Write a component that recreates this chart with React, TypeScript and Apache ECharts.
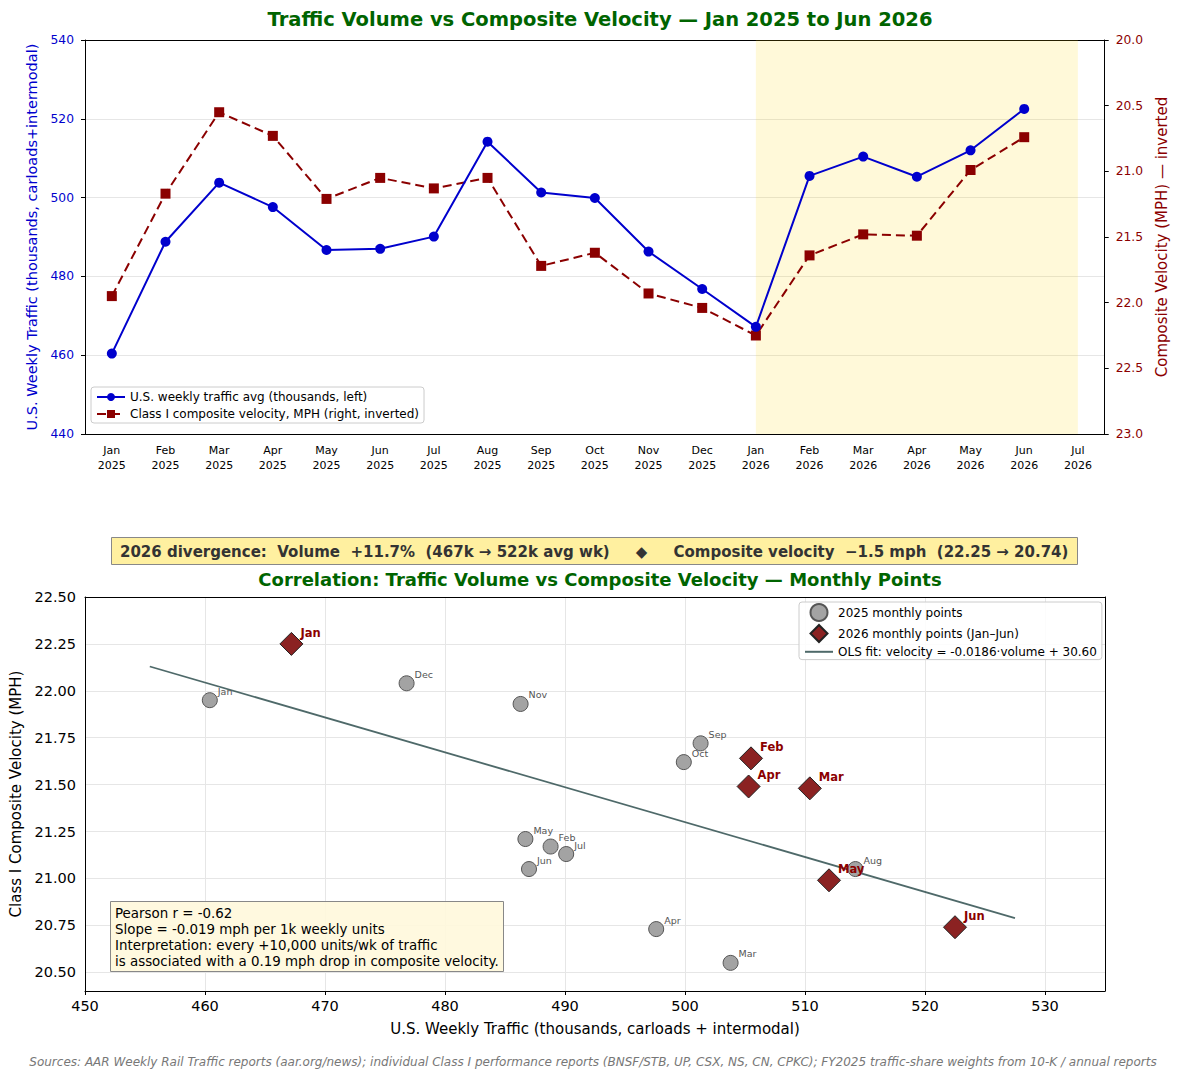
import { useEffect, useRef } from "react";
import * as echarts from "echarts";

const MONTHS = [
  "Jan 2025", "Feb 2025", "Mar 2025", "Apr 2025", "May 2025", "Jun 2025",
  "Jul 2025", "Aug 2025", "Sep 2025", "Oct 2025", "Nov 2025", "Dec 2025",
  "Jan 2026", "Feb 2026", "Mar 2026", "Apr 2026", "May 2026", "Jun 2026",
  "Jul 2026",
];
// U.S. weekly traffic avg, thousands
const VOLUME = [
  460.4, 488.8, 503.8, 497.6, 486.7, 487.0, 490.1, 514.2, 501.3, 499.9, 486.3, 476.8,
  467.2, 505.5, 510.4, 505.3, 512.0, 522.5,
];
// Class I composite velocity, MPH
const VELOCITY = [
  21.95, 21.17, 20.55, 20.73, 21.21, 21.05, 21.13, 21.05, 21.72, 21.62, 21.93, 22.04,
  22.25, 21.64, 21.48, 21.49, 20.99, 20.74,
];
const LEFT_TICKS = [440, 460, 480, 500, 520, 540];
const RIGHT_TICKS = [20.0, 20.5, 21.0, 21.5, 22.0, 22.5, 23.0];
const SCATTER_X_TICKS = [450, 460, 470, 480, 490, 500, 510, 520, 530];
const SCATTER_Y_TICKS = [20.5, 20.75, 21.0, 21.25, 21.5, 21.75, 22.0, 22.25, 22.5];
const FIT_SLOPE = -0.0186;
const FIT_INTERCEPT = 30.6;

const BLUE = "#0000CD";
const DARKRED = "#8B0000";
const GREEN = "#006400";
const GRID_COLOR = "#e6e6e6";
const FONT = "DejaVu Sans";

const S_VOL = "U.S. weekly traffic avg (thousands, left)";
const S_VEL = "Class I composite velocity, MPH (right, inverted)";
const S_2025 = "2025 monthly points";
const S_2026 = "2026 monthly points (Jan–Jun)";
const S_FIT = "OLS fit: velocity = -0.0186·volume + 30.60";

export default function App() {
  const chartRef = useRef<HTMLDivElement>(null);

  useEffect(() => {
    if (!chartRef.current) return;
    const chart = echarts.init(chartRef.current, null, { renderer: "svg" });

    const shortName = (m: string) => m.split(" ")[0];
    const pts2025 = VOLUME.slice(0, 12).map((v, i) => ({
      name: shortName(MONTHS[i]),
      value: [v, VELOCITY[i]],
    }));
    const pts2026 = VOLUME.slice(12).map((v, i) => ({
      name: shortName(MONTHS[i + 12]),
      value: [v, VELOCITY[i + 12]],
    }));
    const fitX = [Math.min(...VOLUME) - 5, Math.max(...VOLUME) + 5];
    const fitLine = fitX.map((x) => [x, FIT_SLOPE * x + FIT_INTERCEPT]);

    // scatter y axis starts at 20.4: step 0.05, show only the quarter marks
    const isQuarter = (v: number) => Math.abs(v * 4 - Math.round(v * 4)) < 1e-6;
    const yMin = 20.4;
    const quarterColors = [0, 1, 2, 3, 4].map((i) =>
      Math.round((yMin + i * 0.05) * 100) % 25 === 0 ? GRID_COLOR : "rgba(0,0,0,0)"
    );

    chart.setOption({
      animation: false,
      textStyle: { fontFamily: FONT },
      title: [
        {
          text: "Traffic Volume vs Composite Velocity — Jan 2025 to Jun 2026",
          left: 595,
          textAlign: "center",
          top: 4,
          textStyle: { color: GREEN, fontSize: 19.5, fontWeight: "bold", fontFamily: FONT },
        },
        {
          text: "2026 divergence:  Volume  +11.7%  (467k → 522k avg wk)     ◆     Composite velocity  −1.5 mph  (22.25 → 20.74)",
          left: 111,
          top: 537,
          padding: [7, 9, 6, 9],
          backgroundColor: "#FFF0A0",
          borderColor: "#888",
          borderWidth: 1,
          textStyle: { color: "#333", fontSize: 15, fontWeight: "bold", fontFamily: FONT },
        },
        {
          text: "Correlation: Traffic Volume vs Composite Velocity — Monthly Points",
          left: 595,
          textAlign: "center",
          top: 565,
          textStyle: { color: GREEN, fontSize: 18, fontWeight: "bold", fontFamily: FONT },
        },
        {
          text:
            "Pearson r = -0.62\nSlope = -0.019 mph per 1k weekly units\nInterpretation: every +10,000 units/wk of traffic\nis associated with a 0.19 mph drop in composite velocity.",
          left: 110,
          top: 901,
          padding: [4, 5, 3, 5],
          backgroundColor: "rgba(255,248,220,0.9)",
          borderColor: "#888",
          borderWidth: 1,
          textStyle: {
            color: "#000",
            fontSize: 13.4,
            fontWeight: "normal",
            lineHeight: 16,
            fontFamily: FONT,
          },
        },
        {
          text: "Sources: AAR Weekly Rail Traffic reports (aar.org/news); individual Class I performance reports (BNSF/STB, UP, CSX, NS, CN, CPKC); FY2025 traffic-share weights from 10-K / annual reports",
          left: 588,
          textAlign: "center",
          top: 1051,
          textStyle: {
            color: "#777",
            fontSize: 12,
            fontStyle: "italic",
            fontWeight: "normal",
            fontFamily: FONT,
          },
        },
      ],
      legend: [
        {
          data: [S_VOL, S_VEL],
          orient: "vertical",
          left: 91,
          top: 387,
          itemGap: 5,
          itemWidth: 28,
          itemHeight: 10,
          padding: [4, 5, 3, 5],
          borderColor: "#ccc",
          borderWidth: 1,
          borderRadius: 3,
          backgroundColor: "rgba(255,255,255,0.85)",
          textStyle: { fontSize: 12, color: "#000", fontFamily: FONT },
        },
        {
          data: [
            { name: S_2025 },
            { name: S_2026, icon: "path://M10,0 L20,10 L10,20 L0,10 Z" },
            { name: S_FIT, itemStyle: { opacity: 0 } },
          ],
          orient: "vertical",
          left: 799,
          top: 602,
          itemGap: 2,
          itemWidth: 28,
          itemHeight: 17,
          symbolKeepAspect: true,
          padding: [1, 5, 1, 5],
          borderColor: "#ccc",
          borderWidth: 1,
          borderRadius: 3,
          backgroundColor: "rgba(255,255,255,0.85)",
          textStyle: { fontSize: 12, color: "#000", fontFamily: FONT },
        },
      ],
      grid: [
        { left: 85, right: 72, top: 40, height: 394 },
        { left: 85, right: 72, top: 597, height: 394 },
      ],
      xAxis: [
        {
          type: "category",
          gridIndex: 0,
          data: MONTHS,
          boundaryGap: true,
          axisLine: { lineStyle: { color: "#000", width: 1 } },
          axisTick: { alignWithLabel: true, length: 4, lineStyle: { color: "#000" } },
          axisLabel: {
            formatter: (v: string) => v.replace(" ", "\n"),
            color: "#000",
            fontSize: 11,
            lineHeight: 15,
            margin: 9,
            interval: 0,
          },
        },
        {
          type: "category",
          gridIndex: 0,
          position: "top",
          data: MONTHS,
          axisLine: { lineStyle: { color: "#000" } },
          axisTick: { show: false },
          axisLabel: { show: false },
        },
        {
          type: "value",
          gridIndex: 1,
          min: SCATTER_X_TICKS[0],
          max: 535,
          interval: 10,
          name: "U.S. Weekly Traffic (thousands, carloads + intermodal)",
          nameLocation: "middle",
          nameGap: 30,
          nameTextStyle: { color: "#000", fontSize: 15, fontFamily: FONT },
          axisLine: { lineStyle: { color: "#000" } },
          axisTick: { show: true, length: 4, lineStyle: { color: "#000" } },
          axisLabel: {
            color: "#000",
            fontSize: 14.5,
            margin: 7,
            showMaxLabel: false,
            formatter: (v: number) => (SCATTER_X_TICKS.includes(v) ? String(v) : ""),
          },
          splitLine: { show: true, lineStyle: { color: GRID_COLOR } },
        },
        {
          type: "value",
          gridIndex: 1,
          position: "top",
          min: SCATTER_X_TICKS[0],
          max: 535,
          axisLine: { show: true, lineStyle: { color: "#000" } },
          axisTick: { show: false },
          axisLabel: { show: false },
          splitLine: { show: false },
        },
      ],
      yAxis: [
        {
          type: "value",
          gridIndex: 0,
          min: LEFT_TICKS[0],
          max: LEFT_TICKS[LEFT_TICKS.length - 1],
          interval: 20,
          name: "U.S. Weekly Traffic (thousands, carloads+intermodal)",
          nameLocation: "middle",
          nameGap: 44,
          nameTextStyle: { color: BLUE, fontSize: 14.5, fontFamily: FONT },
          axisLine: { show: true, lineStyle: { color: "#000" } },
          axisTick: { show: true, length: 4, lineStyle: { color: "#000" } },
          axisLabel: { color: BLUE, fontSize: 12.3, margin: 11 },
          splitLine: { show: true, lineStyle: { color: GRID_COLOR } },
        },
        {
          type: "value",
          gridIndex: 0,
          position: "right",
          inverse: true,
          min: RIGHT_TICKS[0],
          max: RIGHT_TICKS[RIGHT_TICKS.length - 1],
          interval: 0.5,
          name: "Composite Velocity (MPH) — inverted",
          nameLocation: "middle",
          nameGap: 46,
          nameRotate: 90,
          nameTextStyle: { color: DARKRED, fontSize: 15, fontFamily: FONT },
          axisLine: { show: true, lineStyle: { color: "#000" } },
          axisTick: { show: true, length: 4, lineStyle: { color: "#000" } },
          axisLabel: {
            color: DARKRED,
            fontSize: 12.3,
            margin: 11,
            formatter: (v: number) => v.toFixed(1),
          },
          splitLine: { show: false },
        },
        {
          type: "value",
          gridIndex: 1,
          min: yMin,
          max: SCATTER_Y_TICKS[SCATTER_Y_TICKS.length - 1],
          interval: 0.05,
          name: "Class I Composite Velocity (MPH)",
          nameLocation: "middle",
          nameGap: 58,
          nameTextStyle: { color: "#000", fontSize: 15, fontFamily: FONT },
          axisLine: { show: true, lineStyle: { color: "#000" } },
          axisTick: { show: false },
          axisLabel: {
            color: "#000",
            fontSize: 14.5,
            margin: 9,
            formatter: (v: number) => (isQuarter(v) ? v.toFixed(2) : ""),
          },
          splitLine: { show: true, lineStyle: { color: quarterColors } },
        },
        {
          type: "value",
          gridIndex: 1,
          position: "right",
          min: yMin,
          max: SCATTER_Y_TICKS[SCATTER_Y_TICKS.length - 1],
          axisLine: { show: true, lineStyle: { color: "#000" } },
          axisTick: { show: false },
          axisLabel: { show: false },
          splitLine: { show: false },
        },
      ],
      series: [
        {
          name: S_VOL,
          type: "line",
          xAxisIndex: 0,
          yAxisIndex: 0,
          data: VOLUME,
          symbol: "circle",
          symbolSize: 10,
          lineStyle: { color: BLUE, width: 2 },
          itemStyle: { color: BLUE },
          z: 3,
          markArea: {
            silent: true,
            itemStyle: { color: "rgba(255,215,0,0.15)" },
            data: [[{ xAxis: MONTHS[12] }, { xAxis: MONTHS[18] }]],
          },
        },
        {
          name: S_VEL,
          type: "line",
          xAxisIndex: 0,
          yAxisIndex: 1,
          data: VELOCITY,
          symbol: "rect",
          symbolSize: 10,
          lineStyle: { color: DARKRED, width: 2, type: [9, 5] },
          itemStyle: { color: DARKRED },
          z: 2,
        },
        {
          name: S_FIT,
          type: "line",
          xAxisIndex: 2,
          yAxisIndex: 2,
          data: fitLine,
          symbol: "none",
          lineStyle: { color: "#2F4F4F", width: 1.8, opacity: 0.85 },
          itemStyle: { color: "#2F4F4F" },
          z: 2,
        },
        {
          name: S_2025,
          type: "scatter",
          xAxisIndex: 2,
          yAxisIndex: 2,
          data: pts2025,
          symbol: "circle",
          symbolSize: 15,
          itemStyle: { color: "#a3a3a3", borderColor: "#555", borderWidth: 1, opacity: 1 },
          label: {
            show: true,
            position: "right",
            distance: 0,
            offset: [0, -9],
            formatter: "{b}",
            color: "#555",
            fontSize: 9.5,
            fontFamily: FONT,
          },
          z: 3,
        },
        {
          name: S_2026,
          type: "scatter",
          xAxisIndex: 2,
          yAxisIndex: 2,
          data: pts2026,
          symbol: "diamond",
          symbolSize: 23,
          itemStyle: { color: "#8B2222", borderColor: "#222", borderWidth: 1, opacity: 1 },
          label: {
            show: true,
            position: "right",
            distance: 0,
            offset: [-3, -11],
            formatter: "{b}",
            color: DARKRED,
            fontSize: 11.5,
            fontWeight: "bold",
            fontFamily: FONT,
          },
          z: 4,
        },
      ],
    });

    return () => chart.dispose();
  }, []);

  return (
    <div
      ref={chartRef}
      style={{ position: "absolute", left: 0, top: 0, width: 1177, height: 1080 }}
    />
  );
}
